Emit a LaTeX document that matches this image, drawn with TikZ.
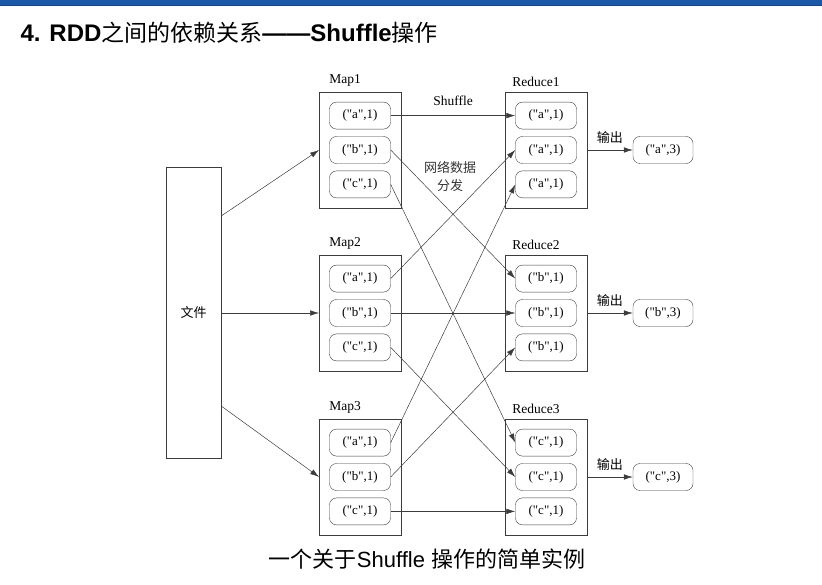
\documentclass[tikz,border=0pt]{standalone}
\usepackage{fontspec}
\setmainfont{Liberation Serif}
\newfontfamily\serif{Liberation Serif}
\newfontfamily\cjk{Noto Sans CJK SC}
\newfontfamily\arial{Liberation Sans}
\usetikzlibrary{matrix}
\usetikzlibrary{arrows.meta}
\definecolor{barblue}{RGB}{31,86,168}
\definecolor{linegray}{RGB}{60,60,60}

\begin{document}
\begin{tikzpicture}[x=1pt,y=-1pt,
    pair/.style={draw=linegray,rounded corners=7pt,minimum width=61pt,minimum height=27pt,inner sep=1pt,font=\serif\fontsize{13}{15}\selectfont},
    stage/.style={matrix of nodes,draw=linegray,row sep=7pt,inner sep=10pt,nodes={pair}},
    lab/.style={font=\serif\fontsize{13.5}{15}\selectfont,inner sep=2pt}]
  \useasboundingbox (0,0) rectangle (822,585);
  \fill[barblue] (0,0) rectangle (822,5);
  \draw[black!75,line width=1pt] (0,5.5) -- (822,5.5);
  \node (title) [anchor=west,font=\fontsize{23}{26}\selectfont] at (17,33)
    {{\arial\bfseries\fontsize{24}{26}\selectfont 4. RDD}{\cjk 之间的依赖关系}{\arial\bfseries\fontsize{24}{26}\selectfont ——Shuffle}{\cjk 操作}};

  \node (file) [draw=linegray,minimum width=55pt,minimum height=291pt] at (193.5,313)
    {\cjk\fontsize{13}{15}\selectfont 文件};

  % map side
  \matrix (m1) [stage,label={[lab,anchor=south west,xshift=8pt,yshift=3pt]north west:Map1}] at (360,150)
  { ("a",1) \\ ("b",1) \\ ("c",1) \\ };
  \matrix (m2) [stage,label={[lab,anchor=south west,xshift=8pt,yshift=3pt]north west:Map2}] at (360,313)
  { ("a",1) \\ ("b",1) \\ ("c",1) \\ };
  \matrix (m3) [stage,label={[lab,anchor=south west,xshift=8pt,yshift=3pt]north west:Map3}] at (360,477)
  { ("a",1) \\ ("b",1) \\ ("c",1) \\ };

  % reduce side
  \matrix (r1) [stage,label={[lab,anchor=south west,xshift=5pt,yshift=3pt]north west:Reduce1}] at (546,150)
  { ("a",1) \\ ("a",1) \\ ("a",1) \\ };
  \matrix (r2) [stage,label={[lab,anchor=south west,xshift=5pt,yshift=3pt]north west:Reduce2}] at (546,313)
  { ("b",1) \\ ("b",1) \\ ("b",1) \\ };
  \matrix (r3) [stage,label={[lab,anchor=south west,xshift=5pt,yshift=3pt]north west:Reduce3}] at (546,477)
  { ("c",1) \\ ("c",1) \\ ("c",1) \\ };

  \node (o1) [pair,minimum width=60pt] at (663,150) {("a",3)};
  \node (o2) [pair,minimum width=60pt] at (663,313) {("b",3)};
  \node (o3) [pair,minimum width=60pt] at (663,477) {("c",3)};

  \node (net) [align=center,font=\cjk\fontsize{13}{18}\selectfont,text=black!80] at (450,176) {网络数据\\分发};

  \path[-{Latex[length=9pt,width=5.5pt]},line width=0.5pt,every edge/.append style={draw=linegray}]
    ([yshift=97pt]file.east) edge (m1.west)
    (file.east) edge (m2.west)
    ([yshift=-93pt]file.east) edge (m3.west)
    (m1-1-1.east) edge node [lab,above=8pt] {Shuffle} (r1-1-1.west)
    (m1-2-1.east) edge (r2-1-1.west)
    (m1-3-1.east) edge (r3-1-1.west)
    (m2-1-1.east) edge (r1-2-1.west)
    (m2-2-1.east) edge (r2-2-1.west)
    (m2-3-1.east) edge (r3-2-1.west)
    (m3-1-1.east) edge (r1-3-1.west)
    (m3-2-1.east) edge (r2-3-1.west)
    (m3-3-1.east) edge (r3-3-1.west)
    (r1) edge node [above=3pt,font=\cjk\fontsize{13}{15}\selectfont] {输出} (o1)
    (r2) edge node [above=3pt,font=\cjk\fontsize{13}{15}\selectfont] {输出} (o2)
    (r3) edge node [above=3pt,font=\cjk\fontsize{13}{15}\selectfont] {输出} (o3);

  \node (caption) [font=\fontsize{22}{26}\selectfont] at (427,559)
    {{\cjk 一个关于}{\arial Shuffle }{\cjk 操作的简单实例}};
\end{tikzpicture}
\end{document}
